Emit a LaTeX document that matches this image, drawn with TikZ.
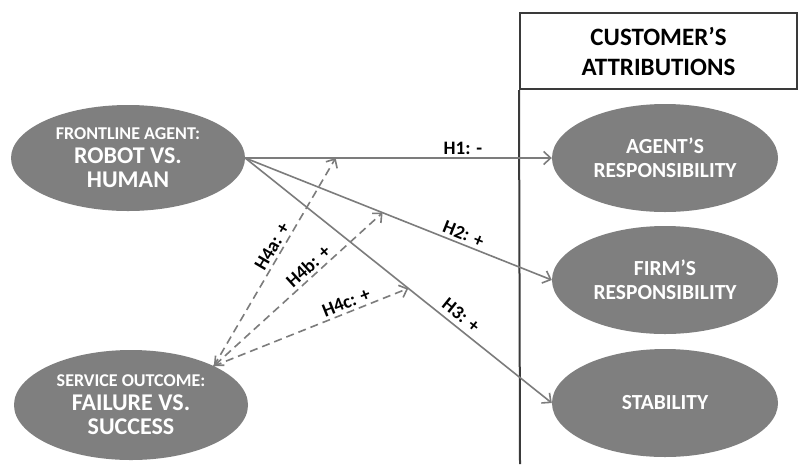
\documentclass[tikz,border=0pt]{standalone}
\usepackage{fontspec}
\setmainfont{Carlito}
\usetikzlibrary{arrows.meta,shapes.geometric}
\definecolor{ellgray}{HTML}{7F7F7F}
\definecolor{linegray}{HTML}{7C7C7C}
\definecolor{boxgray}{HTML}{3A3A3A}
\begin{document}
\begin{tikzpicture}[x=1pt,y=-1pt,
  ell/.style={ellipse, fill=ellgray, text=white, align=center, inner sep=0pt,
    minimum width=226pt, minimum height=108pt,
    font=\bfseries\fontsize{21.5}{24}\selectfont},
  lell/.style={ell, minimum width=234pt, minimum height=106pt,
    font=\bfseries\fontsize{24}{24}\selectfont},
  conn/.style={draw=linegray, line width=1.6pt, -{Straight Barb[length=7pt,width=13pt]}},
  dconn/.style={conn, dash pattern=on 8pt off 5pt},
  lbl/.style={font=\bfseries\fontsize{19}{22}\selectfont, text=black, inner sep=3pt}]
\useasboundingbox (0,0) rectangle (799,464);
\fill[white] (0,0) rectangle (799,464);

% header box and divider
\node[draw=boxgray, line width=2pt, minimum width=277pt, minimum height=76pt,
  inner sep=0pt, align=center, font=\bfseries\fontsize{25}{30}\selectfont]
  (hdr) at (658.5,51) {CUSTOMER’S\\ATTRIBUTIONS};
\coordinate (vb) at (520,464);
\draw[boxgray, line width=2pt] (hdr.south west) -- (vb);

% left ellipses
\node[lell] (ft) at (128,158)
  {{\fontsize{18}{24}\selectfont FRONTLINE AGENT:}\\ROBOT VS.\\HUMAN};
\node[lell, minimum height=110pt] (so) at (131,405)
  {{\fontsize{18}{24}\selectfont SERVICE OUTCOME:}\\FAILURE VS.\\SUCCESS};

% right ellipses
\node[ell] (ag) at (665,158) {AGENT’S\\RESPONSIBILITY};
\node[ell] (fr) at (665,280) {FIRM’S\\RESPONSIBILITY};
\node[ell] (st) at (665,403) {STABILITY};

% main paths
\draw[conn] (ft.east) -- coordinate[pos=0.295] (p1)
  node[lbl, pos=0.71, above] {H1: -} (ag.west);
\draw[conn] (ft.east) -- coordinate[pos=0.448] (p2)
  node[lbl, pos=0.70, above, sloped] {H2: +} (fr.west);
\draw[conn] (ft.east) -- coordinate[pos=0.532] (p3)
  node[lbl, pos=0.68, above=2pt, sloped] {H3: +} (st.west);

% moderation paths
\draw[dconn] (so.north east) -- node[lbl, pos=0.55, above, sloped] {H4a: +} (p1);
\draw[dconn, {Straight Barb[length=7pt,width=13pt]}-{Straight Barb[length=7pt,width=13pt]}]
  (so.north east) -- node[lbl, pos=0.6, above, sloped] {H4b: +} (p2);
\draw[dconn] (so.north east) -- node[lbl, pos=0.7, above, sloped] {H4c: +} (p3);
\end{tikzpicture}
\end{document}
